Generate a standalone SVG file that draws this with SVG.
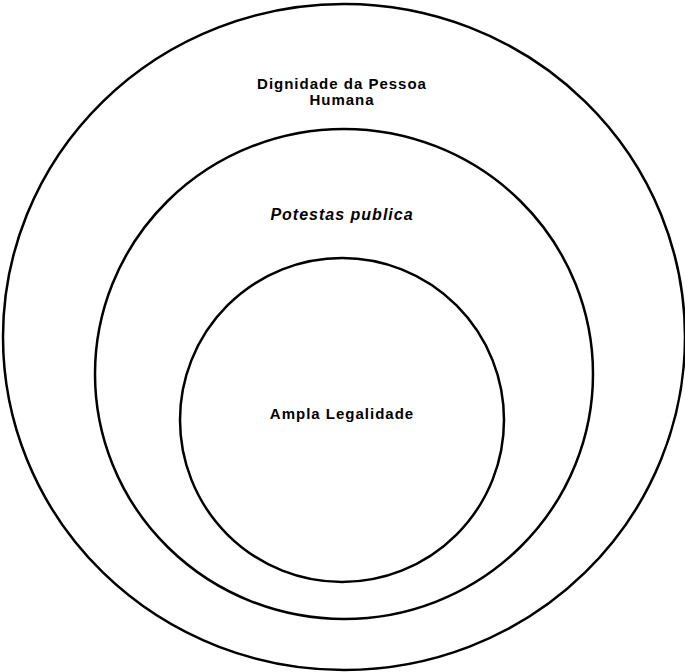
<svg xmlns="http://www.w3.org/2000/svg" width="685" height="672" viewBox="0 0 685 672">
<style>
.ring{fill:none;stroke:#000;stroke-width:2.5}
.lbl{font-family:"Liberation Sans",Arial,sans-serif;font-size:15px;font-weight:bold;fill:#000;text-anchor:middle;letter-spacing:1px}
.it{font-style:italic;font-size:16px}
</style>
<rect width="685" height="672" fill="#fff"/>
<g id="outer">
<ellipse class="ring" cx="344" cy="337" rx="341" ry="333"/>
<text class="lbl" x="342" y="89">Dignidade da Pessoa</text>
<text class="lbl" x="342" y="105">Humana</text>
</g>
<g id="middle">
<ellipse class="ring" cx="344" cy="374" rx="249" ry="245"/>
<text class="lbl it" x="342" y="220">Potestas publica</text>
</g>
<g id="inner">
<ellipse class="ring" cx="342" cy="420" rx="162" ry="162"/>
<text class="lbl" x="342" y="419">Ampla Legalidade</text>
</g>
<g id="connectors"/>
</svg>
